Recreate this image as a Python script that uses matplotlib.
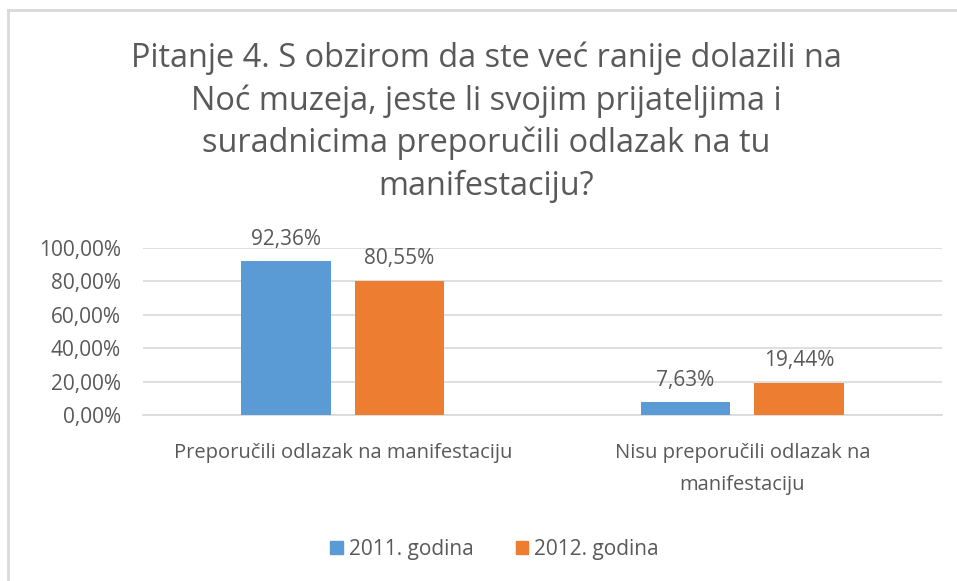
import numpy as np
import matplotlib; matplotlib.use("Agg")
import matplotlib.pyplot as plt
from matplotlib.lines import Line2D
from matplotlib.patches import Patch

plt.rcParams["font.family"] = ["Open Sans", "DejaVu Sans"]

TITLE      = ("Pitanje 4. S obzirom da ste već ranije dolazili na\n"
              "Noć muzeja, jeste li svojim prijateljima i\n"
              "suradnicima preporučili odlazak na tu\n"
              "manifestaciju?")
CATEGORIES = ["Preporučili odlazak na manifestaciju",
              "Nisu preporučili odlazak na\nmanifestaciju"]
SERIES     = ["2011. godina", "2012. godina"]
VALUES_11  = [92.36, 7.63]
VALUES_12  = [80.55, 19.44]
Y_TICKS    = [0, 20, 40, 60, 80, 100]

TXT   = "#595959"
GRID  = "#d9d9d9"
BLUE  = "#5b9bd5"
ORNG  = "#ed7d31"


def pct(v):
    return f"{v:.2f}%".replace(".", ",")


fig = plt.figure(figsize=(9.57, 5.81), dpi=100)
ax = fig.add_axes([0.1494, 0.2857, 0.835, 0.2874])

x = np.arange(len(CATEGORIES))
w, off = 0.223, 0.142
for vals, col, dx, lab in [(VALUES_11, BLUE, -off, SERIES[0]),
                           (VALUES_12, ORNG, off, SERIES[1])]:
    bars = ax.bar(x + dx, vals, w, color=col, label=lab, zorder=3)
    for b, v in zip(bars, vals):
        ax.annotate(pct(v), (b.get_x() + b.get_width() / 2, v),
                    xytext=(0, 8), textcoords="offset points",
                    ha="center", va="bottom", fontsize=15, color=TXT)

ax.set_xlim(-0.5, 1.5)
ax.set_ylim(0, 100)
ax.set_yticks(Y_TICKS)
ax.set_yticklabels([pct(v) for v in Y_TICKS], fontsize=15, color=TXT)
ax.set_xticks(x)
ax.set_xticklabels(CATEGORIES, fontsize=14.5, color=TXT, linespacing=1.8)
ax.tick_params(length=0)
ax.tick_params(axis="y", pad=16)
ax.tick_params(axis="x", pad=20)
ax.grid(axis="y", color=GRID, lw=1.2, zorder=0)
for s in ["top", "right", "left"]:
    ax.spines[s].set_visible(False)
ax.spines["bottom"].set_color(GRID)
ax.spines["bottom"].set_linewidth(1.2)

fig.text(0.508, 1 - 122 / 581, TITLE, ha="center", va="center",
         fontsize=23.4, color=TXT, linespacing=1.36)

handles = [Patch(color=BLUE), Patch(color=ORNG)]
fig.legend(handles, SERIES, loc="center", bbox_to_anchor=(0.517, 0.055),
           ncol=2, frameon=False, fontsize=15, labelcolor=TXT,
           handlelength=0.6, handleheight=0.6, handletextpad=0.3,
           columnspacing=2.0)

# chart border (top and left edges visible)
fig.add_artist(Line2D([8 / 957, 1.0], [1 - 10 / 581, 1 - 10 / 581],
                      transform=fig.transFigure, color=GRID, lw=2))
fig.add_artist(Line2D([8 / 957, 8 / 957], [0, 1 - 10 / 581],
                      transform=fig.transFigure, color=GRID, lw=2))

fig.savefig("out.png", dpi=100)
